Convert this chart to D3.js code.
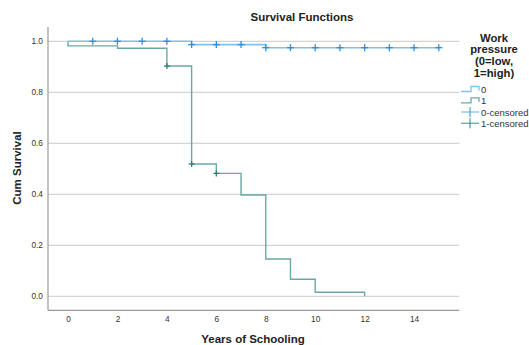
<!DOCTYPE html>
<html><head><meta charset="utf-8">
<script src="https://cdn.jsdelivr.net/npm/d3@7/dist/d3.min.js"></script>
<style>body{margin:0;background:#fff}svg{display:block;font-family:Arial,"Liberation Sans",sans-serif}</style>
</head><body><svg id="c" width="529" height="345"></svg>
<script>
// step functions: event times and survival after each time (start at 1.0)
const times0 = [0, 5, 8];
const surv0 = [1.0, 0.987, 0.975];
const end0 = 15;
const times1 = [0, 0, 2, 4, 5, 6, 7, 8, 9, 10, 12];
const surv1 = [1.0, 0.982, 0.973, 0.903, 0.519, 0.482, 0.397, 0.146, 0.067, 0.016, 0.0];
const end1 = 12;
const cens0x = [1, 2, 3, 4, 5, 6, 7, 8, 9, 10, 11, 12, 13, 14, 15];
const cens0y = [1, 1, 1, 1, 0.987, 0.987, 0.987, 0.975, 0.975, 0.975, 0.975, 0.975, 0.975, 0.975, 0.975];
const cens1x = [4, 5, 6];
const cens1y = [0.903, 0.519, 0.482];
const xTicks = [0, 2, 4, 6, 8, 10, 12, 14];
const yTicks = [0.0, 0.2, 0.4, 0.6, 0.8, 1.0];
const legendLabels = ["0", "1", "0-censored", "1-censored"];

const svg = d3.select("#c");
const L = 48, R = 459.3, T = 27, B = 310.3;
const x = d3.scaleLinear().domain([-0.81, 15.83]).range([L, R]);
const y = d3.scaleLinear().domain([0, 1]).range([296.3, 41.3]);
const blueLine = "#82c1ee", blueMark = "#2a8fe2", tealLine = "#6aa8a5", tealMark = "#2f7d78";

// grid
svg.append("g").selectAll("line").data(yTicks).join("line")
  .attr("x1", L).attr("x2", R).attr("y1", d => y(d)).attr("y2", d => y(d))
  .attr("stroke", "#d4d4d4").attr("stroke-width", 1.2);

// axes lines
svg.append("line").attr("x1", L).attr("x2", L).attr("y1", T).attr("y2", B).attr("stroke", "#9a9a9a").attr("stroke-width", 1.2);
svg.append("line").attr("x1", L).attr("x2", R).attr("y1", B).attr("y2", B).attr("stroke", "#9a9a9a").attr("stroke-width", 1.2);

// tick labels
const yAxis = d3.axisLeft(y).tickValues(yTicks).tickFormat(d3.format(".1f")).tickSize(0).tickPadding(5);
const gy = svg.append("g").attr("transform", `translate(${L},0)`).call(yAxis);
gy.select(".domain").remove();
gy.selectAll("text").attr("font-size", 8.3).attr("fill", "#333").attr("font-family", "Arial,'Liberation Sans',sans-serif");
const xAxis = d3.axisBottom(x).tickValues(xTicks).tickSize(0).tickPadding(5);
const gx = svg.append("g").attr("transform", `translate(0,${B + 1})`).call(xAxis);
gx.select(".domain").remove();
gx.selectAll("text").attr("font-size", 8.3).attr("fill", "#333").attr("font-family", "Arial,'Liberation Sans',sans-serif");

function stepPath(times, surv, end) {
  let p = `M${x(times[0])},${y(surv[0])}`;
  for (let i = 1; i < times.length; i++) {
    p += `H${x(times[i])}V${y(surv[i])}`;
  }
  p += `H${x(end)}`;
  return p;
}
svg.append("path").attr("d", stepPath(times1, surv1, end1)).attr("fill", "none").attr("stroke", tealLine).attr("stroke-width", 1.4);
svg.append("path").attr("d", stepPath(times0, surv0, end0)).attr("fill", "none").attr("stroke", blueLine).attr("stroke-width", 1.6);

function marks(xs, ys, col, sz) {
  const g = svg.append("g");
  xs.forEach((v, i) => {
    const cx = x(v), cy = y(ys[i]);
    g.append("line").attr("x1", cx - sz).attr("x2", cx + sz).attr("y1", cy).attr("y2", cy).attr("stroke", col).attr("stroke-width", 1.3);
    g.append("line").attr("x1", cx).attr("x2", cx).attr("y1", cy - sz).attr("y2", cy + sz).attr("stroke", col).attr("stroke-width", 1.3);
  });
}
marks(cens1x, cens1y, tealMark, 3);
marks(cens0x, cens0y, blueMark, 3.5);

// titles
svg.append("text").attr("x", 302).attr("y", 21).attr("text-anchor", "middle").attr("font-size", 11.5).attr("font-weight", "bold").attr("fill", "#222").text("Survival Functions");
svg.append("text").attr("x", 253).attr("y", 343).attr("text-anchor", "middle").attr("font-size", 11.5).attr("font-weight", "bold").attr("fill", "#222").text("Years of Schooling");
svg.append("text").attr("transform", "translate(21,168) rotate(-90)").attr("text-anchor", "middle").attr("font-size", 11.5).attr("font-weight", "bold").attr("fill", "#222").text("Cum Survival");

// legend
const lt = svg.append("text").attr("text-anchor", "middle").attr("font-size", 11.3).attr("font-weight", "bold").attr("fill", "#222");
["Work", "pressure", "(0=low,", "1=high)"].forEach((s, i) => lt.append("tspan").attr("x", 494).attr("y", 41.5 + i * 11.7).text(s));
const ly = [89, 100.3, 112, 123.3];
const lx0 = 461, lx1 = 479;
// step symbols
[blueLine, tealLine].forEach((c, i) => {
  const yy = ly[i] + 2.5;
  svg.append("path").attr("d", `M${lx0},${yy}H${lx0 + 10}V${yy - 5}H${lx1}V${yy - 1}`).attr("fill", "none").attr("stroke", c).attr("stroke-width", 1.3);
});
[[blueLine, blueMark], [tealLine, tealMark]].forEach((c, i) => {
  const yy = ly[i + 2];
  svg.append("line").attr("x1", lx0).attr("x2", lx1).attr("y1", yy).attr("y2", yy).attr("stroke", c[0]).attr("stroke-width", 1.3);
  svg.append("line").attr("x1", 470).attr("x2", 470).attr("y1", yy - 5).attr("y2", yy + 5).attr("stroke", c[1]).attr("stroke-width", 1);
});
legendLabels.forEach((s, i) => svg.append("text").attr("x", 481).attr("y", ly[i] + 3.5).attr("font-size", 9.5).attr("fill", "#333").text(s));
</script></body></html>
